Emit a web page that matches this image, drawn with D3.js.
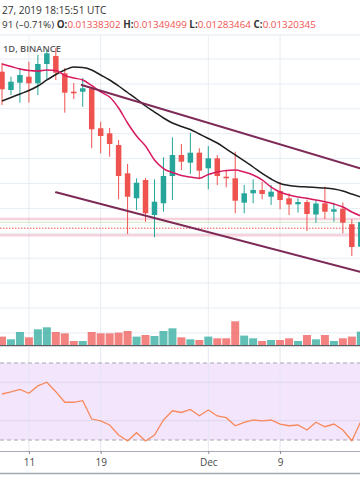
<!DOCTYPE html>
<html><head><meta charset="utf-8">
<script src="https://cdn.jsdelivr.net/npm/d3@7"></script>
<style>
html,body{margin:0;padding:0;background:#fff;}
svg{display:block;font-family:"Open Sans",sans-serif;}
</style></head><body>
<svg id="c" width="360" height="504"></svg>
<script>
// ---- data ----
const dates = ["2019-11-08","2019-11-09","2019-11-10","2019-11-11","2019-11-12","2019-11-13","2019-11-14","2019-11-15","2019-11-16","2019-11-17",
"2019-11-18","2019-11-19","2019-11-20","2019-11-21","2019-11-22","2019-11-23","2019-11-24","2019-11-25","2019-11-26","2019-11-27",
"2019-11-28","2019-11-29","2019-11-30","2019-12-01","2019-12-02","2019-12-03","2019-12-04","2019-12-05","2019-12-06","2019-12-07",
"2019-12-08","2019-12-09","2019-12-10","2019-12-11","2019-12-12","2019-12-13","2019-12-14","2019-12-15","2019-12-16","2019-12-17","2019-12-18"];
const open = [0.019490,0.018755,0.019048,0.019289,0.019024,0.019799,0.020120,0.019426,0.018687,0.018687,
0.018823,0.017217,0.017016,0.016546,0.015410,0.014406,0.015141,0.013735,0.014205,0.015301,
0.016145,0.015835,0.016237,0.015610,0.016012,0.015273,0.015209,0.014229,0.014606,0.014739,
0.014470,0.014699,0.014406,0.014165,0.014257,0.013755,0.014205,0.013867,0.013984,0.013365,0.012462];
const high = [0.019839,0.019289,0.019639,0.019892,0.020161,0.020361,0.020442,0.019639,0.019036,0.019237,
0.018888,0.017482,0.017229,0.016747,0.015783,0.015209,0.015221,0.015169,0.016052,0.016855,
0.016586,0.017040,0.016414,0.016506,0.016145,0.015542,0.016277,0.014940,0.015169,0.015072,
0.014940,0.015060,0.014606,0.014406,0.014357,0.014337,0.014871,0.014229,0.014237,0.013562,0.013775];
const low = [0.018153,0.018554,0.018245,0.018245,0.018554,0.019197,0.019157,0.017843,0.018394,0.018084,
0.016414,0.016213,0.016076,0.014365,0.012972,0.013936,0.013466,0.012839,0.013867,0.014337,
0.015542,0.015382,0.015169,0.014767,0.014940,0.014847,0.013803,0.013803,0.014205,0.014365,
0.014137,0.013964,0.013735,0.013827,0.013092,0.013426,0.013574,0.013466,0.013000,0.012088,0.012329];
const close = [0.018783,0.019088,0.019357,0.019024,0.019799,0.020229,0.019450,0.018647,0.018622,0.018823,
0.017177,0.016908,0.016586,0.015301,0.014470,0.015032,0.013803,0.014269,0.015301,0.016145,
0.015876,0.016237,0.015514,0.016012,0.015301,0.015209,0.014309,0.014606,0.014739,0.014578,
0.014671,0.014337,0.014157,0.014257,0.013775,0.014197,0.013867,0.013964,0.013426,0.012450,0.013454];
const volume = [87,60,133,80,160,180,133,120,43,43,
133,120,120,127,143,87,103,93,143,170,
80,60,53,87,70,70,240,97,70,43,
53,53,70,43,103,60,103,43,70,87,137];
const maSlow = [0.018313,0.018454,0.018594,0.018735,0.018916,0.019157,0.019378,0.019558,0.019679,0.019659,
0.019558,0.019357,0.019157,0.018916,0.018655,0.018394,0.018112,0.017871,0.017631,0.017430,
0.017289,0.017169,0.016988,0.016807,0.016627,0.016386,0.016145,0.015904,0.015663,0.015402,
0.015181,0.015000,0.014920,0.014880,0.014859,0.014839,0.014819,0.014779,0.014699,0.014578,0.014458];
const maFast = [0.019799,0.019699,0.019598,0.019538,0.019518,0.019558,0.019538,0.019337,0.019237,0.019157,
0.018936,0.018675,0.018474,0.018032,0.017430,0.016908,0.016506,0.015944,0.015602,0.015442,
0.015321,0.015261,0.015209,0.015361,0.015462,0.015522,0.015542,0.015462,0.015341,0.015141,
0.014859,0.014659,0.014538,0.014458,0.014406,0.014337,0.014269,0.014177,0.014056,0.013855,0.013695];
const rsi = [53.9,55.0,56.3,54.3,58.1,60.0,55.1,49.6,49.6,50.4,
40.9,39.9,37.8,32.6,29.5,33.8,29.5,32.6,40.4,45.2,
44.3,45.9,42.6,45.6,42.5,41.6,37.4,39.2,40.4,39.9,
40.4,38.3,37.4,37.8,35.2,39.2,36.9,38.3,35.2,29.6,39.6];
const tickDates = ["2019-11-11","2019-11-19","2019-12-01","2019-12-09"];
const tickLabels = ["11","19","Dec","9"];
const priceGrid = [0.021,0.020,0.019,0.018,0.017,0.016,0.015,0.014,0.013,0.012,0.011,0.010,0.009];
const rsiGrid = [60,40];
const rsiBand = [70,30];
const levelPrices = [0.013574,0.013442,0.0132035,0.012924];
const upperTrend = [["2019-11-16 21:14",0.018956],["2019-12-17 21:50",0.015610]];
const lowerTrend = [["2019-11-14 00:30",0.014647],["2019-12-17 21:50",0.011458]];
const headerLine1 = "27, 2019 18:15:51 UTC";
const headerChange = "91 (\u20130.71%) ";
const ohlcLabels = ["O:","H:","L:","C:"];
const ohlcValues = ["0.01338302","0.01349499","0.01283464","0.01320345"];
const symbolLabel = "1D, BINANCE";

// ---- scales ----
const parseD = d3.timeParse("%Y-%m-%d");
const parseDT = d3.timeParse("%Y-%m-%d %H:%M");
const dts = dates.map(parseD);
const x = d3.scaleTime().domain([dts[0], dts[dts.length-1]]).range([2, 2 + 40*8.97]);
const y = d3.scaleLinear().domain([0.009, 0.021]).range([332.9, 34.1]);
const yv = d3.scaleLinear().domain([0, 1000]).range([345.3, 245.3]);
const yr = d3.scaleLinear().domain([30, 70]).range([440, 363]);

const UP = "#26a69a", DN = "#ef5350";
const svg = d3.select("#c");
svg.append("rect").attr("width",360).attr("height",504).attr("fill","#fff");

const defs = svg.append("defs");
defs.append("clipPath").attr("id","mainClip").append("rect").attr("x",0).attr("y",35).attr("width",360).attr("height",310);
defs.append("clipPath").attr("id","rsiClip").append("rect").attr("x",0).attr("y",346).attr("width",360).attr("height",105);

// ---- header ----
svg.append("text").attr("x",2).attr("y",14).attr("font-size",10.1).attr("fill","#333").text(headerLine1);
const h2 = svg.append("text").attr("x",2).attr("y",28).attr("font-size",9.85).attr("fill","#333");
h2.append("tspan").text(headerChange);
ohlcLabels.forEach((l,i)=>{
  h2.append("tspan").attr("font-weight","bold").attr("fill","#333").text(l);
  h2.append("tspan").attr("fill",DN).text(ohlcValues[i] + (i<3?" ":""));
});

// ---- main pane ----
const main = svg.append("g").attr("clip-path","url(#mainClip)");
main.selectAll(".hg").data(priceGrid).join("line")
  .attr("x1",0).attr("x2",360).attr("y1",d=>y(d)).attr("y2",d=>y(d))
  .attr("stroke","#e6edf3").attr("stroke-width",1);
main.selectAll(".vg").data(tickDates).join("line")
  .attr("x1",d=>x(parseD(d))).attr("x2",d=>x(parseD(d))).attr("y1",35).attr("y2",345)
  .attr("stroke","#e6edf3").attr("stroke-width",1);
svg.append("line").attr("x1",0).attr("x2",360).attr("y1",35).attr("y2",35).attr("stroke","#e3e9ef");

// volume
main.selectAll(".vol").data(dts).join("rect")
  .attr("x",(d)=>x(d)-4).attr("width",8)
  .attr("y",(d,i)=>yv(volume[i])).attr("height",(d,i)=>yv(0)-yv(volume[i]))
  .attr("fill",(d,i)=>close[i]>=open[i]?UP:DN).attr("fill-opacity",0.72);

// level lines
const levelStyles = [
  {c:"rgba(225,90,130,0.28)",w:2.4,dash:null},
  {c:"rgba(120,190,80,0.35)",w:1,dash:null},
  {c:DN,w:1,dash:"1.5,1.5"},
  {c:"rgba(225,90,130,0.28)",w:2.4,dash:null}];
main.selectAll(".lvl").data(levelPrices).join("line")
  .attr("x1",0).attr("x2",360).attr("y1",d=>y(d)).attr("y2",d=>y(d))
  .attr("stroke",(d,i)=>levelStyles[i].c).attr("stroke-width",(d,i)=>levelStyles[i].w)
  .attr("stroke-dasharray",(d,i)=>levelStyles[i].dash);

// candles
const cg = main.append("g");
cg.selectAll(".wick").data(dts).join("line")
  .attr("x1",d=>x(d)).attr("x2",d=>x(d))
  .attr("y1",(d,i)=>y(high[i])).attr("y2",(d,i)=>y(low[i]))
  .attr("stroke",(d,i)=>close[i]>=open[i]?UP:DN).attr("stroke-width",1);
cg.selectAll(".body").data(dts).join("rect")
  .attr("x",d=>x(d)-2.75).attr("width",5.5)
  .attr("y",(d,i)=>y(Math.max(open[i],close[i])))
  .attr("height",(d,i)=>Math.max(1.2, Math.abs(y(open[i])-y(close[i]))))
  .attr("fill",(d,i)=>close[i]>=open[i]?UP:DN);

// moving averages
const lineGen = arr => d3.line().x((d,i)=>x(dts[i])).y(d=>y(d)).curve(d3.curveMonotoneX)(arr);
main.append("path").attr("d",lineGen(maSlow)).attr("fill","none").attr("stroke","#1f1f1f").attr("stroke-width",1.5);
main.append("path").attr("d",lineGen(maFast)).attr("fill","none").attr("stroke","#d81b60").attr("stroke-width",1.5);

// trend lines
[upperTrend, lowerTrend].forEach(t=>{
  main.append("line")
    .attr("x1",x(parseDT(t[0][0]))).attr("y1",y(t[0][1]))
    .attr("x2",x(parseDT(t[1][0]))).attr("y2",y(t[1][1]))
    .attr("stroke","#7e2a57").attr("stroke-width",2).attr("stroke-linecap","round");
});

svg.append("text").attr("x",3).attr("y",51.5).attr("font-size",9.3).attr("font-weight",600)
  .attr("fill","#5b5b5b").text(symbolLabel);

// pane separator
svg.append("line").attr("x1",0).attr("x2",360).attr("y1",345.6).attr("y2",345.6).attr("stroke","#5d5f66").attr("stroke-width",1.2);

// ---- RSI pane ----
const rp = svg.append("g").attr("clip-path","url(#rsiClip)");
rp.append("rect").attr("x",0).attr("width",360).attr("y",yr(rsiBand[0])).attr("height",yr(rsiBand[1])-yr(rsiBand[0]))
  .attr("fill","#f3e6fc");
rp.selectAll(".vg").data(tickDates).join("line")
  .attr("x1",d=>x(parseD(d))).attr("x2",d=>x(parseD(d))).attr("y1",346).attr("y2",451)
  .attr("stroke","#e3e6f0");
rp.selectAll(".rg").data(rsiGrid).join("line")
  .attr("x1",0).attr("x2",360).attr("y1",d=>yr(d)).attr("y2",d=>yr(d))
  .attr("stroke","#ddd5ee").attr("stroke-width",1);
rp.selectAll(".rb").data(rsiBand).join("line")
  .attr("x1",0).attr("x2",360).attr("y1",d=>yr(d)).attr("y2",d=>yr(d))
  .attr("stroke","#a9a4ae").attr("stroke-width",1).attr("stroke-dasharray","4,3");
rp.append("path").attr("d",d3.line().x((d,i)=>x(dts[i])).y(d=>yr(d))(rsi))
  .attr("fill","none").attr("stroke","#f7895c").attr("stroke-width",1.3);

// ---- time axis ----
const axis = d3.axisBottom(x).tickValues(tickDates.map(parseD))
  .tickFormat((d,i)=>tickLabels[i]).tickSize(3).tickSizeOuter(0);
const ag = svg.append("g").attr("transform","translate(0,451)").call(axis);
ag.select(".domain").attr("stroke","#a8abb3").attr("d","M0,0.5H360");
ag.selectAll(".tick line").attr("stroke","#8a8d95");
ag.selectAll(".tick text").attr("font-family","Open Sans, sans-serif").attr("font-size",10).attr("fill","#4a4a4a").attr("dy","0.9em");
svg.append("line").attr("x1",0).attr("x2",360).attr("y1",473.5).attr("y2",473.5).attr("stroke","#a3a6ad").attr("stroke-width",1.5);
</script>
</body></html>
